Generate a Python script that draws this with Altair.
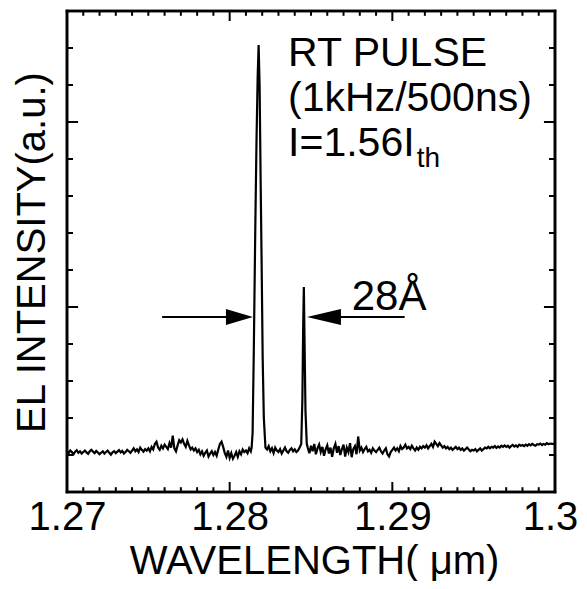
import altair as alt
import pandas as pd

FONT = "Liberation Sans"

# ---------------- data ----------------
# baseline segments: start wavelength (um), values every 0.0001 um
base1_start = 1.2700
base1 = [
    1.10, 1.05, 1.12, 1.08, 1.02, 1.09, 1.13, 1.06, 1.10, 1.04,
    1.08, 1.12, 1.07, 1.03, 1.10, 1.14, 1.09, 1.05, 1.11, 1.07,
    1.02, 1.06, 1.10, 1.04, 1.08, 1.12, 1.06, 1.01, 1.07, 1.10,
    1.05, 1.09, 1.13, 1.07, 1.11, 1.04, 1.08, 1.14, 1.10, 1.06,
    1.12, 1.18, 1.10, 1.15, 1.08, 1.20, 1.14, 1.09, 1.16, 1.12,
    1.18, 1.10, 1.22, 1.15, 1.30, 1.36, 1.20, 1.14, 1.25, 1.18,
    1.28, 1.22, 1.16, 1.32, 1.20, 1.52, 1.18, 1.10, 1.26, 1.40,
    1.34, 1.42, 1.30, 1.22, 1.38, 1.26, 1.15, 1.20, 1.12, 1.18,
    1.08, 1.14, 1.02, 1.10, 0.98, 1.06, 1.12, 0.96, 1.04, 1.10,
    1.00, 1.08, 0.98, 1.15, 1.30, 1.36, 1.22, 1.05, 0.95, 1.12,
    0.92, 1.05, 0.90, 0.98, 1.08, 0.95, 1.10, 1.02, 1.15, 1.08,
    1.12, 1.05, 1.18, 1.10,
]
peak1_wl = [1.28135, 1.28141, 1.28148, 1.28158, 1.28165, 1.28172, 1.28178,
            1.28184, 1.28191, 1.28197, 1.28203, 1.28210, 1.28220]
peak1_int = [1.2, 1.6, 3.7, 7.3, 9.5, 11.2, 12.08, 11.0, 8.2, 6.0, 3.6, 2.0, 1.2]

base2_start = 1.2823
base2 = [1.15, 1.24, 1.10, 1.18, 1.05, 1.20, 1.12, 1.08, 1.16, 1.04, 1.12,
         1.20, 1.10, 1.06, 1.14, 1.18, 1.10, 1.15, 1.08, 1.12, 1.20]

peak2_wl = [1.28440, 1.28447, 1.28452, 1.28456, 1.28460, 1.28466, 1.28474]
peak2_int = [1.3, 2.5, 4.5, 5.54, 4.2, 2.2, 1.3]

base3_start = 1.2848
base3 = [
    1.20, 1.05,
    1.25, 1.10, 1.30, 1.02, 1.18, 1.28, 1.08, 1.22, 0.98, 1.15,
    1.26, 1.04, 1.20, 0.95, 1.18, 1.30, 1.06, 1.24, 1.00, 1.16,
    1.28, 0.96, 1.20, 1.08, 1.32, 0.94, 1.16, 1.24, 1.02, 1.50,
    1.12, 1.20, 1.08, 1.16, 1.22, 1.10, 1.14, 1.06, 1.18, 1.12,
    1.08, 1.14, 1.20, 1.10, 1.04, 1.12, 1.18, 1.02, 0.96, 1.08,
    1.14, 1.20, 1.12, 1.18, 1.10, 1.24, 1.16, 1.20, 1.28, 1.18,
    1.22, 1.16, 1.25, 1.18, 1.12, 1.20, 1.14, 1.22, 1.18, 1.24,
    1.20, 1.26, 1.18, 1.24, 1.30, 1.22, 1.36, 1.30, 1.24, 1.32,
    1.26, 1.20, 1.24, 1.18, 1.22, 1.16, 1.20, 1.14, 1.18, 1.22,
    1.16, 1.20, 1.14, 1.18, 1.12, 1.16, 1.20, 1.15, 1.10, 1.14,
    1.12, 1.16, 1.10, 1.14, 1.18, 1.12, 1.16, 1.20, 1.18, 1.22,
    1.18, 1.22, 1.20, 1.24, 1.19, 1.23, 1.20, 1.25, 1.22, 1.26,
    1.22, 1.25, 1.20, 1.24, 1.27, 1.23, 1.26, 1.22, 1.28, 1.25,
    1.27, 1.24, 1.28, 1.25, 1.29, 1.26, 1.30, 1.27, 1.25, 1.29,
    1.28, 1.31, 1.27, 1.30, 1.28, 1.32, 1.29, 1.31, 1.30, 1.30,
    1.31,
]

x_labels = [1.27, 1.28, 1.29, 1.30]
x_minor = [round(1.27 + i * 0.001, 3) for i in range(1, 30) if i % 10]
y_major = [5, 10]
y_minor = [1, 2, 3, 4, 6, 7, 8, 9, 11, 12]

text_lines = ["RT PULSE", "(1kHz/500ns)", "I=1.56I"]
subscript = "th"
fwhm_label = "28Å"

# ---------------- assemble ----------------
STEP = 0.0001
wl, inten = [], []
for start, vals in ((base1_start, base1), (base2_start, base2), (base3_start, base3)):
    for i, v in enumerate(vals):
        wl.append(round(start + i * STEP, 5))
        inten.append(v)
wl += peak1_wl + peak2_wl
inten += peak1_int + peak2_int
spec = pd.DataFrame({"wl": wl, "I": inten}).sort_values("wl")

XDOM = [1.27, 1.30]
YDOM = [0, 13]
xs = alt.Scale(domain=XDOM, nice=False, zero=False)
ys = alt.Scale(domain=YDOM, nice=False, zero=False)

line = alt.Chart(spec).mark_line(color="black", strokeWidth=2.2).encode(
    x=alt.X("wl:Q", scale=xs, axis=alt.Axis(
        values=x_labels, format=".2~f", ticks=False, tickSize=0, domain=False, grid=False,
        labelFont=FONT, labelFontSize=40, labelColor="black", labelPadding=37,
        labelBaseline="alphabetic", labelFlush=False, labelOverlap=False,
        labelOffset={"condition": {"test": "datum.value > 1.299", "value": -5}, "value": 0},
        title="WAVELENGTH( μm)", titleFont=FONT, titleFontSize=40, titleFontWeight="normal",
        titleColor="black", titleBaseline="alphabetic", titleY=81, titleX=247,
        titleAlign="center")),
    y=alt.Y("I:Q", scale=ys, axis=alt.Axis(
        labels=False, ticks=False, tickSize=0, domain=False, grid=False,
        title="EL INTENSITY(a.u.)", titleFont=FONT, titleFontSize=40, titleFontWeight="normal",
        titleColor="black", titleAngle=270, titleBaseline="middle", titleAlign="center",
        titleX=-35, titleY=241)),
)

# frame (four sides of the plot)
frame_df = pd.DataFrame({
    "x": [XDOM[0], XDOM[1], XDOM[0], XDOM[0]],
    "x2": [XDOM[0], XDOM[1], XDOM[1], XDOM[1]],
    "y": [YDOM[0], YDOM[0], YDOM[0], YDOM[1]],
    "y2": [YDOM[1], YDOM[1], YDOM[0], YDOM[1]],
})
frame = alt.Chart(frame_df).mark_rule(color="black", strokeWidth=2.6, strokeCap="square").encode(
    x=alt.X("x:Q", scale=xs), x2="x2:Q", y=alt.Y("y:Q", scale=ys), y2="y2:Q")

# tick marks (inward, all four sides)
XL_MIN, XL_MAJ = 0.13, 0.27      # tick length in intensity units
YL_MIN, YL_MAJ = 0.00037, 0.00068  # tick length in wavelength units
rows = []
for v in x_minor + [1.28, 1.29]:
    L = XL_MAJ if v in (1.28, 1.29) else XL_MIN
    rows.append({"x": v, "x2": v, "y": YDOM[0], "y2": YDOM[0] + L})
    rows.append({"x": v, "x2": v, "y": YDOM[1], "y2": YDOM[1] - L})
for v in y_minor + y_major:
    L = YL_MAJ if v in y_major else YL_MIN
    rows.append({"x": XDOM[0], "x2": XDOM[0] + L, "y": v, "y2": v})
    rows.append({"x": XDOM[1], "x2": XDOM[1] - L, "y": v, "y2": v})
ticks = alt.Chart(pd.DataFrame(rows)).mark_rule(color="black", strokeWidth=2).encode(
    x=alt.X("x:Q", scale=xs), x2="x2:Q", y=alt.Y("y:Q", scale=ys), y2="y2:Q")

# annotation text
ann = pd.DataFrame({"t": text_lines, "x": [1.28359] * 3, "y": [11.51, 10.30, 9.08]})
txt = alt.Chart(ann).mark_text(font=FONT, fontSize=41, align="left", baseline="alphabetic",
                               color="black").encode(x="x:Q", y="y:Q", text="t:N")
sub = alt.Chart(pd.DataFrame({"t": [subscript], "x": [1.29150], "y": [8.78]})).mark_text(
    font=FONT, fontSize=28, align="left", baseline="alphabetic", color="black").encode(
    x="x:Q", y="y:Q", text="t:N")
lab = alt.Chart(pd.DataFrame({"t": [fwhm_label], "x": [1.28750], "y": [4.92]})).mark_text(
    font=FONT, fontSize=42, align="left", baseline="alphabetic", color="black").encode(
    x="x:Q", y="y:Q", text="t:N")

# arrows
shafts = alt.Chart(pd.DataFrame({"x": [1.27585, 1.28670], "x2": [1.27990, 1.29076],
                                 "y": [4.73, 4.73]})).mark_rule(color="black", strokeWidth=2.2).encode(
    x="x:Q", x2="x2:Q", y="y:Q")
head_r = alt.Chart(pd.DataFrame({"x": [1.28143], "y": [4.73]})).mark_point(
    shape="M0,0 L-2,-0.6 L-2,0.6 Z", size=729, filled=True, color="black", opacity=1,
    strokeWidth=0).encode(x="x:Q", y="y:Q")
head_l = alt.Chart(pd.DataFrame({"x": [1.28475], "y": [4.73]})).mark_point(
    shape="M0,0 L2,-0.47 L2,0.47 Z", size=1156, filled=True, color="black", opacity=1,
    strokeWidth=0).encode(x="x:Q", y="y:Q")

chart = alt.layer(line, frame, ticks, txt, sub, lab, shafts, head_r, head_l).properties(
    width=488, height=481,
    autosize=alt.AutoSizeParams(type="none"),
    padding={"left": 59, "top": 3, "right": 24, "bottom": 89},
).configure(
    background="white",
    view=alt.ViewConfig(stroke="black", strokeWidth=2.5),
)

chart.save("out.html", embed_options={"renderer": "svg", "actions": False})
